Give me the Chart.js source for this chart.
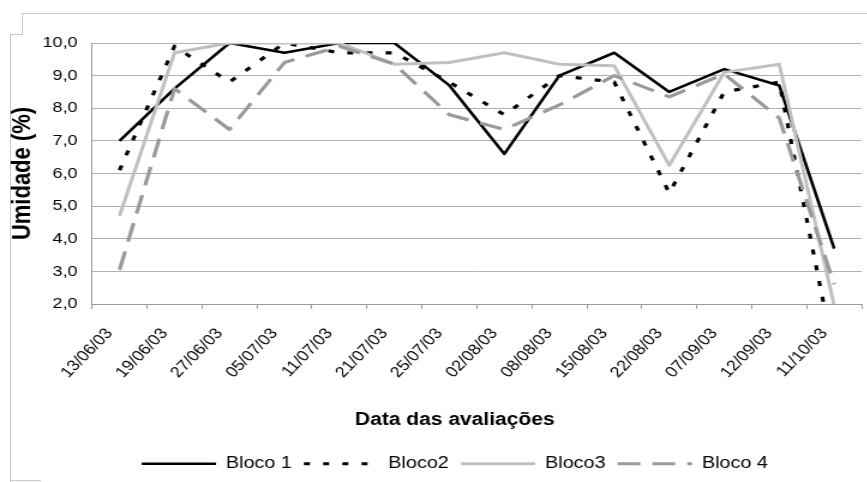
<!DOCTYPE html>
<html>
<head>
<meta charset="utf-8">
<script src="https://cdn.jsdelivr.net/npm/chart.js@4.4.1/dist/chart.umd.min.js"></script>
<style>
html, body { margin:0; padding:0; background:#fff; overflow:hidden; width:867px; height:482px; }
#wrap { position:absolute; left:0; top:0; width:725px; height:482px; transform:scaleX(1.2); transform-origin:0 0; }
.f { position:absolute; background:#c8c8c8; }
</style>
</head>
<body>
<div class="f" style="left:22px;top:13px;width:845px;height:1px"></div>
<div class="f" style="left:22px;top:13px;width:1px;height:21px"></div>
<div class="f" style="left:10px;top:34px;width:13px;height:1px"></div>
<div class="f" style="left:10px;top:34px;width:1px;height:448px"></div>
<div class="f" style="left:10px;top:480px;width:31px;height:1px"></div>
<div id="wrap"><canvas id="c"></canvas></div>
<script>
const dates = ['13/06/03','19/06/03','27/06/03','05/07/03','11/07/03','21/07/03','25/07/03','02/08/03','08/08/03','15/08/03','22/08/03','07/09/03','12/09/03','11/10/03'];
const bloco1 = [7.0, 8.6, 10.0, 9.7, 10.0, 10.0, 8.7, 6.6, 9.0, 9.7, 8.5, 9.2, 8.7, 3.7];
const bloco2 = [6.1, 9.9, 8.8, 10.0, 9.7, 9.7, 8.8, 7.8, 9.0, 8.8, 5.4, 8.5, 8.8, 0.4];
const bloco3 = [4.7, 9.7, 10.0, 10.0, 10.0, 9.35, 9.4, 9.7, 9.35, 9.3, 6.25, 9.1, 9.35, 1.95];
const bloco4 = [3.05, 8.6, 7.35, 9.4, 9.9, 9.35, 7.8, 7.35, 8.1, 9.0, 8.35, 9.05, 7.7, 2.6];
const seriesNames = ['Bloco 1', 'Bloco2', 'Bloco3', 'Bloco 4'];
const yTickValues = [2, 3, 4, 5, 6, 7, 8, 9, 10];
const yTickLabels = ['2,0', '3,0', '4,0', '5,0', '6,0', '7,0', '8,0', '9,0', '10,0'];
const xTitle = 'Data das avaliações';
const yTitle = 'Umidade (%)';

Chart.defaults.font.family = "'Liberation Sans', Arial, sans-serif";
Chart.defaults.color = '#000';

const common = { pointRadius: 0, pointHoverRadius: 0, tension: 0, fill: false, borderJoinStyle: 'round' };

new Chart(document.getElementById('c'), {
  type: 'line',
  data: {
    labels: dates,
    datasets: [
      Object.assign({ label: seriesNames[0], data: bloco1, borderColor: '#000000', borderWidth: 2.6, order: 4 }, common),
      Object.assign({ label: seriesNames[1], data: bloco2, borderColor: '#000000', borderWidth: 3.2, borderDash: [5, 11], order: 3 }, common),
      Object.assign({ label: seriesNames[2], data: bloco3, borderColor: '#c0c0c0', borderWidth: 3, order: 2 }, common),
      Object.assign({ label: seriesNames[3], data: bloco4, borderColor: '#9a9a9a', borderWidth: 3.2, borderDash: [19, 10], order: 1 }, common)
    ]
  },
  options: {
    responsive: true,
    maintainAspectRatio: false,
    animation: false,
    events: [],
    layout: { padding: { left: 33, right: 0, top: 43, bottom: 0 } },
    plugins: {
      legend: {
        position: 'bottom',
        labels: {
          usePointStyle: true,
          pointStyle: 'line',
          pointStyleWidth: 62,
          font: { size: 16.5 },
          color: '#000',
          padding: 10,
          sort: (a, b) => a.datasetIndex - b.datasetIndex,
          generateLabels: (chart) => {
            const items = Chart.defaults.plugins.legend.labels.generateLabels(chart);
            items.forEach(it => {
              const ds = chart.data.datasets[it.datasetIndex];
              it.lineDash = ds.borderDash || [];
              it.lineWidth = ds.borderWidth;
              it.strokeStyle = ds.borderColor;
              it.fillStyle = ds.borderColor;
              it.pointStyle = 'line';
            });
            return items;
          }
        }
      },
      title: {
        display: true,
        text: xTitle,
        position: 'bottom',
        weight: 500,
        font: { size: 17.5, weight: 'bold' },
        color: '#000',
        padding: { top: 10, bottom: 14.8 }
      },
      tooltip: { enabled: false }
    },
    scales: {
      x: {
        type: 'category',
        offset: true,
        grid: { offset: true, drawOnChartArea: false, drawTicks: true, tickLength: 5, color: '#9a9a9a' },
        border: { color: '#9a9a9a' },
        ticks: { autoSkip: false, maxRotation: 50, minRotation: 50, padding: 16, labelOffset: -8.3, font: { size: 15 }, color: '#000' },
        afterFit: (s) => { s.height = 95.7; }
      },
      y: {
        min: 2,
        max: 10,
        afterBuildTicks: (s) => { s.ticks = yTickValues.map(v => ({ value: v })); },
        ticks: {
          padding: 12,
          font: { size: 15 },
          color: '#000',
          callback: (v) => yTickLabels[yTickValues.indexOf(v)]
        },
        grid: { color: '#b0b0b0', drawTicks: false },
        border: { color: '#9a9a9a' },
        title: { display: true, text: yTitle, font: { size: 22, weight: 'bold' }, color: '#000', padding: { top: -27.2, bottom: 0 } },
        afterFit: (s) => { s.width = 43.7; }
      }
    }
  }
});
</script>
</body>
</html>
